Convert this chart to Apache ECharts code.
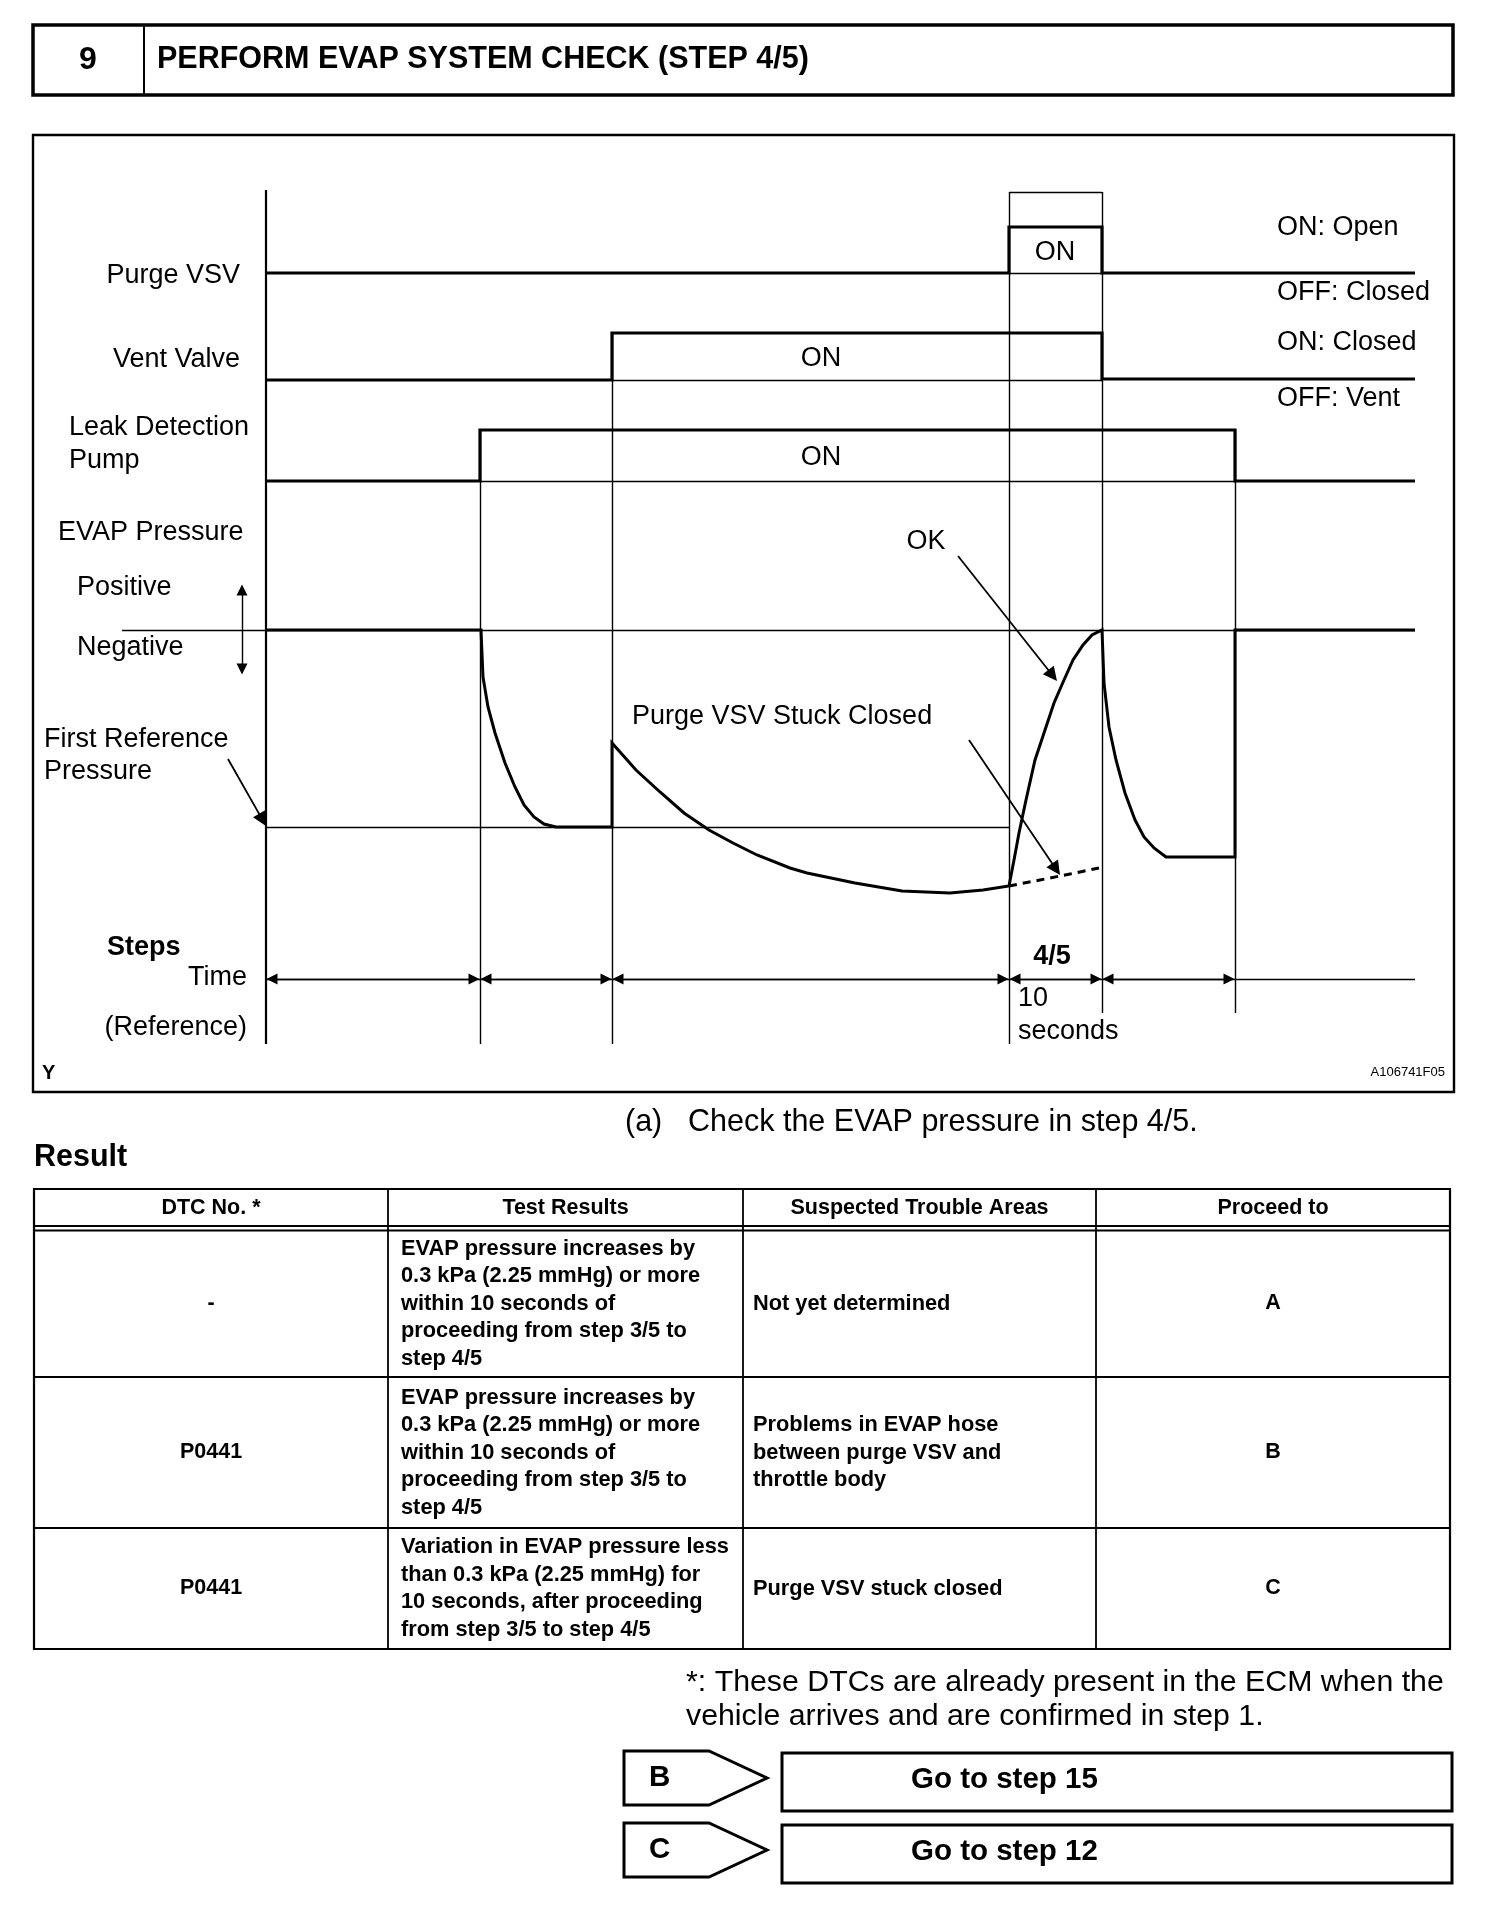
<!DOCTYPE html>
<html>
<head>
<meta charset="utf-8">
<script src="https://cdn.jsdelivr.net/npm/echarts@6/dist/echarts.min.js"></script>
<style>
  html, body { margin: 0; padding: 0; background: #fff; }
  #chart { width: 1504px; height: 1918px; }
</style>
</head>
<body>
<div id="chart"></div>
<script>
// time axis: step boundaries
const stepTimes = [0, 21.4, 34.6, 74.3, 83.6, 96.9];
const timeEnd = 114.9;

// signal traces, [time, level]
const purgeVsv = [[0, 77.7], [74.3, 77.7], [74.3, 82.3], [83.6, 82.3], [83.6, 77.7], [114.9, 77.7]];
const ventValve = [[0, 67], [34.6, 67], [34.6, 71.7], [83.6, 71.7], [83.6, 67.1], [114.9, 67.1]];
const leakPump = [[0, 56.9], [21.4, 56.9], [21.4, 62], [96.9, 62], [96.9, 56.9], [114.9, 56.9]];

// EVAP pressure (OK case)
const evapPressure = [
  [0, 42], [21.5, 42], [21.7, 37.3], [22.2, 34.3], [22.9, 31.7], [23.9, 28.7], [24.9, 26.3],
  [25.8, 24.5], [26.8, 23.3], [27.8, 22.6], [29, 22.3], [34.6, 22.3],
  [34.6, 30.7], [37, 28], [39.4, 25.8], [41.8, 23.7], [44.3, 22], [46.7, 20.7], [49.1, 19.5],
  [52.4, 18.2], [54.1, 17.7], [58.9, 16.7], [63.6, 15.9], [68.4, 15.7], [71.7, 16], [74.3, 16.4],
  [74.8, 19], [75.3, 21.7], [76, 25], [76.9, 29], [77.9, 32], [78.8, 34.7], [79.8, 37],
  [80.7, 39], [81.7, 40.5], [82.6, 41.5], [83.6, 42],
  [83.8, 36.7], [84.3, 32.3], [85, 29], [85.9, 25.7], [86.9, 23], [87.8, 21.3], [88.8, 20.2],
  [90, 19.3], [96.9, 19.3], [96.9, 42], [114.9, 42]
];
// purge VSV stuck closed (dashed)
const evapStuck = [[74.3, 16.4], [77.4, 17], [80.4, 17.6], [83.3, 18.2]];

// thin reference lines
const atmLevel = 42;
const firstRefLevel = 22.3;
const timeLevel = 7.1;
const guideTops = [86, 62, 71.7, 85.8, 85.8, 62];
const guideBottoms = [0.6, 0.6, 0.6, 0.6, 3.7, 3.7];

// table
const tableHead = ['DTC No. *', 'Test Results', 'Suspected Trouble Areas', 'Proceed to'];
const dtcNo = ['-', 'P0441', 'P0441'];
const testResults = [
  'EVAP pressure increases by\n0.3 kPa (2.25 mmHg) or more\nwithin 10 seconds of\nproceeding from step 3/5 to\nstep 4/5',
  'EVAP pressure increases by\n0.3 kPa (2.25 mmHg) or more\nwithin 10 seconds of\nproceeding from step 3/5 to\nstep 4/5',
  'Variation in EVAP pressure less\nthan 0.3 kPa (2.25 mmHg) for\n10 seconds, after proceeding\nfrom step 3/5 to step 4/5'
];
const troubleAreas = ['Not yet determined', 'Problems in EVAP hose\nbetween purge VSV and\nthrottle body', 'Purge VSV stuck closed'];
const proceedTo = ['A', 'B', 'C'];

const chart = echarts.init(document.getElementById('chart'));

const FONT = '"Liberation Sans", Arial, sans-serif';
const txt = (text, x, y, size, opt = {}) => ({
  type: 'text', x, y, z: 10,
  style: {
    text, fill: '#000',
    font: (opt.bold ? 'bold ' : '') + size + 'px ' + FONT,
    align: opt.align || 'left', verticalAlign: 'middle',
    lineHeight: opt.lh
  }
});

// pull an arrow end back so the head tip lands on the point
function pullBack(from, to, d) {
  const dx = to[0] - from[0], dy = to[1] - from[1];
  const len = Math.sqrt(dx * dx + dy * dy);
  return [to[0] - dx / len * d, to[1] - dy / len * d];
}

const seg = (a, b) => ({ coords: [a, b] });

const thinLines = [
  seg([74.3, 77.7], [83.6, 77.7]),
  seg([74.3, 85.8], [83.6, 85.8]),
  seg([34.6, 67], [83.6, 67]),
  seg([21.4, 56.9], [96.9, 56.9]),
  seg([-14.4, atmLevel], [timeEnd, atmLevel]),
  seg([0, firstRefLevel], [74.3, firstRefLevel]),
  seg([0, timeLevel], [timeEnd, timeLevel])
];
stepTimes.slice(1).forEach((t, i) => {
  thinLines.push(seg([t, guideTops[i + 1]], [t, guideBottoms[i + 1]]));
});

const timeArrows = [];
for (let i = 0; i < stepTimes.length - 1; i++) {
  const a = [stepTimes[i], timeLevel], b = [stepTimes[i + 1], timeLevel];
  timeArrows.push(seg(pullBack(b, a, 0.6), pullBack(a, b, 0.6)));
}

const okFrom = [69.2, 49.4], okTo = [79.1, 36.9];
const stuckFrom = [70.3, 31], stuckTo = [79.4, 17.5];
const refFrom = [-3.8, 29.1], refTo = [0, 22.4];
const signFrom = [-2.4, 46.6], signTo = [-2.4, 37.5];

const lineSeries = (data, width, type) => ({
  type: 'line', data, showSymbol: false, symbol: 'none', smooth: false,
  lineStyle: { color: '#000', width, type: type || 'solid', cap: 'butt', join: 'miter' },
  silent: true, z: 3
});

const option = {
  animation: false,
  backgroundColor: '#fff',
  grid: { left: 16, top: 130, width: 1400, height: 920 },
  xAxis: { type: 'value', min: -25, max: 115, show: false },
  yAxis: { type: 'value', min: 0, max: 92, show: false },
  series: [
    lineSeries(purgeVsv, 3.2),
    lineSeries(ventValve, 3.2),
    lineSeries(leakPump, 3.2),
    lineSeries(evapPressure, 3),
    lineSeries(evapStuck, 3, [8, 6]),
    lineSeries([[0, 86], [0, 0.6]], 2.2),
    {
      type: 'lines', coordinateSystem: 'cartesian2d', silent: true, z: 2,
      lineStyle: { color: '#000', width: 1.4, opacity: 1 },
      symbol: 'none',
      data: thinLines
    },
    {
      type: 'lines', coordinateSystem: 'cartesian2d', silent: true, z: 4,
      lineStyle: { color: '#000', width: 1.4, opacity: 1 },
      symbol: ['triangle', 'triangle'], symbolSize: 11,
      itemStyle: { color: '#000' },
      data: timeArrows.concat([seg(pullBack(signTo, signFrom, 0.6), pullBack(signFrom, signTo, 0.6))])
    },
    {
      type: 'lines', coordinateSystem: 'cartesian2d', silent: true, z: 4,
      lineStyle: { color: '#000', width: 1.8, opacity: 1 },
      symbol: ['none', 'triangle'], symbolSize: 14,
      data: [
        seg(okFrom, pullBack(okFrom, okTo, 0.7)),
        seg(stuckFrom, pullBack(stuckFrom, stuckTo, 0.7)),
        seg(refFrom, pullBack(refFrom, refTo, 0.7))
      ]
    }
  ],
  graphic: []
};

const g = option.graphic;
// header
g.push({ type: 'rect', shape: { x: 33, y: 25, width: 1420, height: 70 }, style: { fill: 'none', stroke: '#000', lineWidth: 3.5 } });
g.push({ type: 'line', shape: { x1: 144, y1: 25, x2: 144, y2: 95 }, style: { stroke: '#000', lineWidth: 2 } });
g.push(txt('9', 88, 60, 32, { bold: true, align: 'center' }));
g.push(txt('PERFORM EVAP SYSTEM CHECK (STEP 4/5)', 157, 60, 30.5, { bold: true }));

// diagram frame
g.push({ type: 'rect', shape: { x: 33, y: 135, width: 1421, height: 957 }, style: { fill: 'none', stroke: '#000', lineWidth: 2.4 } });

// diagram labels
g.push(txt('Purge VSV', 240, 276, 27, { align: 'right' }));
g.push(txt('Vent Valve', 240, 360, 27, { align: 'right' }));
g.push(txt('Leak Detection', 69, 428, 27));
g.push(txt('Pump', 69, 461, 27));
g.push(txt('EVAP Pressure', 58, 533, 27));
g.push(txt('Positive', 77, 588, 27));
g.push(txt('Negative', 77, 648, 27));
g.push(txt('First Reference', 44, 740, 27));
g.push(txt('Pressure', 44, 772, 27));
g.push(txt('Steps', 107, 948, 27, { bold: true }));
g.push(txt('Time', 247, 978, 27, { align: 'right' }));
g.push(txt('(Reference)', 247, 1028, 27, { align: 'right' }));
g.push(txt('Y', 42, 1073, 20, { bold: true }));
g.push(txt('ON', 1055, 253, 27, { align: 'center' }));
g.push(txt('ON', 821, 359, 27, { align: 'center' }));
g.push(txt('ON', 821, 458, 27, { align: 'center' }));
g.push(txt('ON: Open', 1277, 228, 27));
g.push(txt('OFF: Closed', 1277, 293, 27));
g.push(txt('ON: Closed', 1277, 343, 27));
g.push(txt('OFF: Vent', 1277, 399, 27));
g.push(txt('OK', 926, 542, 27, { align: 'center' }));
g.push(txt('Purge VSV Stuck Closed', 632, 717, 27));
g.push(txt('4/5', 1052, 957, 27, { bold: true, align: 'center' }));
g.push(txt('10', 1018, 999, 27));
g.push(txt('seconds', 1018, 1032, 27));
g.push(txt('A106741F05', 1445, 1072, 13, { align: 'right' }));

// text under diagram
g.push(txt('(a)', 625, 1123, 30.5));
g.push(txt('Check the EVAP pressure in step 4/5.', 688, 1123, 30.5));
g.push(txt('Result', 34, 1158, 30.5, { bold: true }));

// table
const colX = [34, 388, 743, 1096, 1450];
const rowY = [1189, 1230, 1377, 1528, 1649];
g.push({ type: 'rect', shape: { x: 34, y: 1189, width: 1416, height: 460 }, style: { fill: 'none', stroke: '#000', lineWidth: 2.2 } });
colX.slice(1, 4).forEach(x => g.push({ type: 'line', shape: { x1: x, y1: 1189, x2: x, y2: 1649 }, style: { stroke: '#000', lineWidth: 1.8 } }));
g.push({ type: 'line', shape: { x1: 34, y1: 1226, x2: 1450, y2: 1226 }, style: { stroke: '#000', lineWidth: 2 } });
g.push({ type: 'line', shape: { x1: 34, y1: 1230.5, x2: 1450, y2: 1230.5 }, style: { stroke: '#000', lineWidth: 2 } });
[1377, 1528].forEach(y => g.push({ type: 'line', shape: { x1: 34, y1: y, x2: 1450, y2: y }, style: { stroke: '#000', lineWidth: 2.2 } }));
tableHead.forEach((h, i) => g.push(txt(h, (colX[i] + colX[i + 1]) / 2, 1208, 21.5, { bold: true, align: 'center' })));
for (let r = 0; r < 3; r++) {
  const cy = (rowY[r + 1] + rowY[r + 2]) / 2;
  g.push(txt(dtcNo[r], (colX[0] + colX[1]) / 2, cy, 21.5, { bold: true, align: 'center' }));
  g.push(txt(testResults[r], colX[1] + 13, cy, 21.8, { bold: true, lh: 27.5 }));
  g.push(txt(troubleAreas[r], colX[2] + 10, cy, 21.8, { bold: true, lh: 27.5 }));
  g.push(txt(proceedTo[r], (colX[3] + colX[4]) / 2, cy, 21.5, { bold: true, align: 'center' }));
}

// footnote
g.push(txt('*: These DTCs are already present in the ECM when the', 686, 1683, 30.3));
g.push(txt('vehicle arrives and are confirmed in step 1.', 686, 1717, 30.3));

// proceed buttons
[['B', 'Go to step 15', 1751], ['C', 'Go to step 12', 1823]].forEach(([k, label, y]) => {
  g.push({ type: 'polygon', shape: { points: [[624, y], [709, y], [767, y + 27], [709, y + 54], [624, y + 54]] }, style: { fill: '#fff', stroke: '#000', lineWidth: 3 } });
  g.push(txt(k, 649, y + 27, 29.5, { bold: true }));
  g.push({ type: 'rect', shape: { x: 782, y: y + 2, width: 670, height: 58 }, style: { fill: '#fff', stroke: '#000', lineWidth: 3 } });
  g.push(txt(label, 911, y + 29, 29.5, { bold: true }));
});

chart.setOption(option);
window.addEventListener('resize', () => chart.resize());
</script>
</body>
</html>
